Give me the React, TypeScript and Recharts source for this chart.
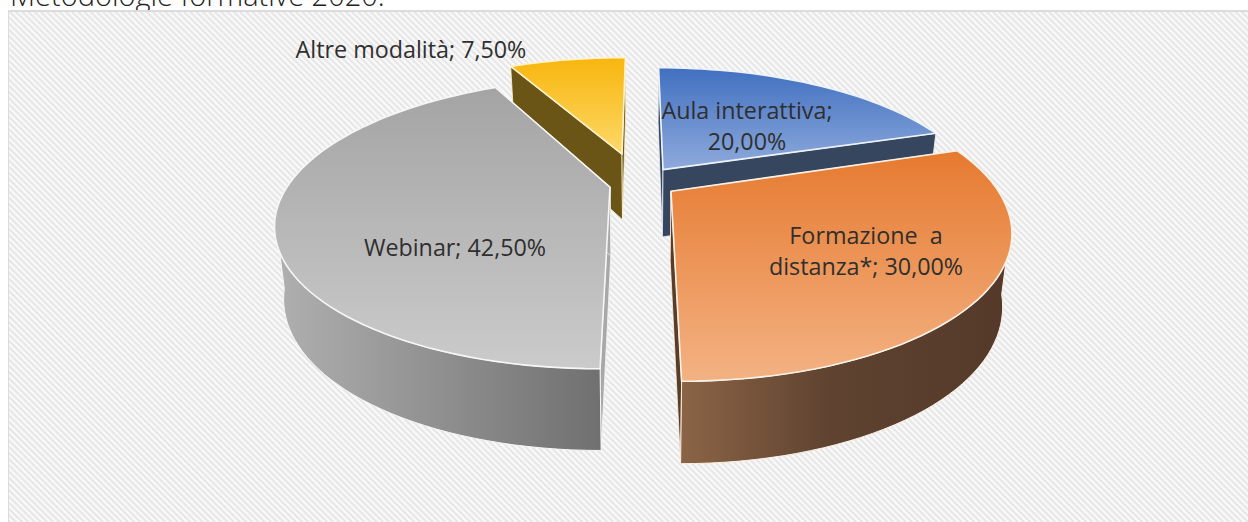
import React from "react";
import { PieChart, Pie } from "recharts";

const categories = ["Altre modalità", "Aula interattiva", "Formazione a distanza*", "Webinar"];
const shares = [7.5, 20, 30, 42.5];
const labelLines: string[][] = [
  ["Altre modalità; 7,50%"],
  ["Aula interattiva;", "20,00%"],
  ["Formazione  a", "distanza*; 30,00%"],
  ["Webinar; 42,50%"],
];
const tableData = categories.map((name, i) => ({ name, value: shares[i] }));

// projection of the tilted disc
const VX = 640, VY = 182, A = 320, B = 136, P = 0.25;
const apexes = [[622, 151], [663, 169], [671, 191], [610, 187]];
const depthScale = [0.97, 0.97, 1.005, 0.985];
const widthScale = [1, 0.99, 1.006, 1];
const labelAt = [[411, 58], [747, 119], [866, 244], [455, 256]];
const topGrad = ["gYellow", "gBlue", "gOrange", "gGray"];
const arcGrad = ["#6b5512", "#3a4a66", "gOrangeWall", "gGrayWall"];
const radialFill = ["#6a5516", "#37465f", "#5a3d28", "#a8a8a8"];
const edge = ["#fff3cf", "#eef3fb", "#fdf1e6", "#f6f6f6"];

const project = (X: number, Y: number) => {
  const w = 1 + P * Y;
  return { x: VX + (A * X) / w, y: VY - (B * Y) / w, w };
};
const lower = (p: { x: number; y: number; w: number }) => ({
  x: VX + (p.x - VX) * 0.975,
  y: p.y + (82 - (p.w - 0.74) * 52),
  w: p.w,
});
const pathOf = (pts: { x: number; y: number }[]) =>
  "M" + pts.map((p) => `${p.x.toFixed(1)},${p.y.toFixed(1)}`).join("L") + "Z";
const paint = (c: string) => (c.startsWith("g") ? `url(#${c})` : c);

const SliceShape = (props: any) => {
  const { startAngle, endAngle, index } = props;
  const t0 = ((90 - startAngle) % 360 + 720) % 360;
  let t1 = ((90 - endAngle) % 360 + 720) % 360;
  if (t1 <= t0) t1 += 360;
  const [ax, ay] = apexes[index];
  const dy = VY - ay;
  const Yc = dy / (B + P * dy);
  const Xc = ((ax - VX) * (1 + P * Yc)) / A;
  const rim = (t: number) => {
    const r = (t * Math.PI) / 180;
    return project(Xc + widthScale[index] * Math.sin(r), Yc + depthScale[index] * Math.cos(r));
  };
  const apex = project(Xc, Yc);
  const arc: { x: number; y: number; w: number }[] = [];
  const front: { x: number; y: number; w: number }[] = [];
  for (let t = t0; t < t1; t += 2) {
    arc.push(rim(t));
    if (Math.cos((t * Math.PI) / 180) < -0.2) front.push(rim(t));
  }
  arc.push(rim(t1));
  if (Math.cos((t1 * Math.PI) / 180) < -0.2) front.push(rim(t1));
  const s = rim(t0), e = rim(t1);
  const wallAt = (p: any) => [apex, p, lower(p), lower(apex)];
  return (
    <g>
      <path d={pathOf(wallAt(s))} fill={radialFill[index]} stroke={edge[index]} strokeWidth={0.8} />
      <path d={pathOf(wallAt(e))} fill={radialFill[index]} stroke={edge[index]} strokeWidth={0.8} />
      {front.length > 1 && (
        <path
          d={pathOf([...front, ...front.map(lower).reverse()])}
          fill={paint(arcGrad[index])}
          stroke={edge[index]}
          strokeWidth={1}
        />
      )}
      <path d={pathOf([apex, ...arc])} fill={`url(#${topGrad[index]})`} stroke={edge[index]} strokeWidth={1.6} strokeLinejoin="round" />
    </g>
  );
};

const SliceLabel = (props: any) => {
  const { index } = props;
  const [x, y] = labelAt[index];
  return (
    <text x={x} y={y} textAnchor="middle" fontFamily="'Open Sans'" fontSize={23.3} fill="#2f2f2f">
      {labelLines[index].map((line, i) => (
        <tspan key={i} x={x} dy={i === 0 ? 0 : 31} style={{ whiteSpace: "pre" }}>
          {line}
        </tspan>
      ))}
    </text>
  );
};

const stops = (a: string, b: string) => (
  <>
    <stop offset="0%" stopColor={a} />
    <stop offset="100%" stopColor={b} />
  </>
);

export default function App() {
  return (
    <div style={{ position: "absolute", left: 0, top: 0, width: 1248, height: 522, overflow: "hidden", background: "#fff" }}>
      <div
        style={{
          position: "absolute", left: 10, top: -25, fontFamily: "'Open Sans'", fontWeight: 300,
          fontSize: 29, lineHeight: "40px", color: "#222", whiteSpace: "nowrap",
        }}
      >
        Metodologie formative 2020:
      </div>
      <div
        style={{
          position: "absolute", left: 8, top: 10, width: 1260, height: 530, boxSizing: "border-box",
          borderTop: "2px solid #dcdcdc", borderLeft: "1px solid #dcdcdc",
          background: "repeating-linear-gradient(45deg, #e3e3e3 0px, #fdfdfd 2.2px, #e3e3e3 4.4px)",
        }}
      />
      <div style={{ position: "absolute", left: 0, top: 0 }}>
        <PieChart width={1248} height={522} margin={{ top: 0, right: 0, bottom: 0, left: 0 }}>
          <defs>
            <linearGradient id="gYellow" x1="0" y1="0" x2="0" y2="1">{stops("#f8b60e", "#fdd868")}</linearGradient>
            <linearGradient id="gBlue" x1="0" y1="0" x2="0" y2="1">{stops("#4170c0", "#8eaadc")}</linearGradient>
            <linearGradient id="gOrange" x1="0" y1="0" x2="0" y2="1">{stops("#e67a30", "#f3b283")}</linearGradient>
            <linearGradient id="gGray" x1="0" y1="0" x2="0" y2="1">{stops("#a4a4a4", "#cbcbcb")}</linearGradient>
            <linearGradient id="gOrangeWall" x1="0" y1="0" x2="1" y2="0">
              <stop offset="0%" stopColor="#8b6446" />
              <stop offset="45%" stopColor="#5f4330" />
              <stop offset="100%" stopColor="#54392a" />
            </linearGradient>
            <linearGradient id="gGrayWall" x1="0" y1="0" x2="1" y2="0">
              <stop offset="0%" stopColor="#b0b0b0" />
              <stop offset="100%" stopColor="#707070" />
            </linearGradient>
          </defs>
          <Pie
            data={tableData}
            dataKey="value"
            nameKey="name"
            cx={640}
            cy={182}
            outerRadius={136}
            startAngle={117}
            endAngle={-243}
            stroke="none"
            shape={SliceShape}
            label={SliceLabel}
            labelLine={false}
            isAnimationActive={false}
          />
        </PieChart>
      </div>
    </div>
  );
}
